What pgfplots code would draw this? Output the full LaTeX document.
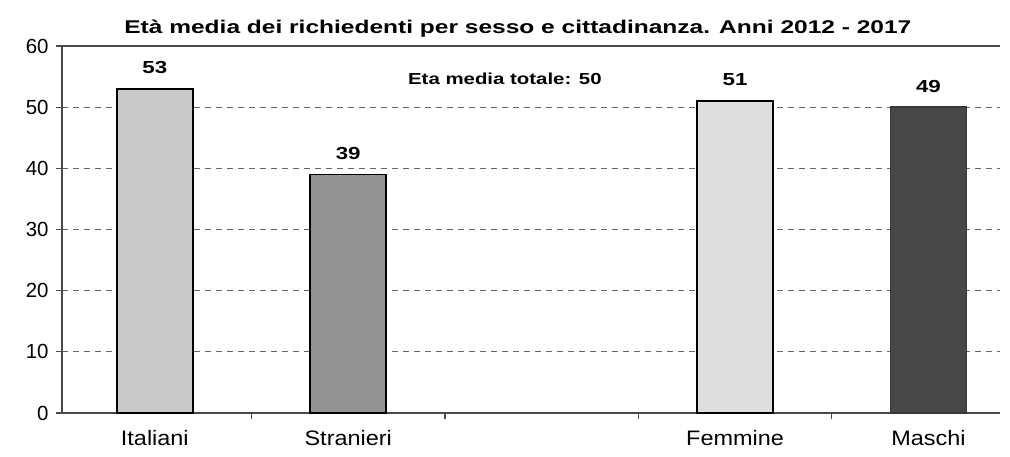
\documentclass[border=0pt]{standalone}
\usepackage{pgfplots}
\pgfplotsset{compat=1.18}
\usepackage{fontspec}
\setmainfont{Liberation Sans}
\newfontfamily\titlefont[FakeStretch=1.33]{Liberation Sans}
\newfontfamily\widefont[FakeStretch=1.28]{Liberation Sans}
\newfontfamily\midfont[FakeStretch=1.12]{Liberation Sans}
\definecolor{cIta}{HTML}{C9C9C9}
\definecolor{cStr}{HTML}{939393}
\definecolor{cFem}{HTML}{DEDEDE}
\definecolor{cMas}{HTML}{474747}
\definecolor{axgray}{HTML}{4A4A4A}
\begin{document}
\begin{tikzpicture}
\begin{axis}[
  scale only axis, width=938bp, height=367bp,
  xmin=-0.48, xmax=4.37, ymin=0, ymax=60,
  axis x line*=bottom, axis y line*=left,
  axis line style={axgray, line width=1.4bp, -},
  ytick={0,10,...,60},
  yticklabel style={font=\fontsize{20.5}{20.5}\selectfont, /pgf/number format/assume math mode=true, xshift=-4bp},
  ymajorgrids, grid style={gray!80!black, dashed, dash pattern=on 6bp off 5bp, line width=1.3bp},
  tick align=outside, major tick length=6bp,
  tick style={axgray, line width=1.2bp},
  xtick={0.5,1.5,2.5,3.5}, xticklabels={},
  extra x ticks={0,1,3,4},
  extra x tick labels={Italiani,Stranieri,Femmine,Maschi},
  extra x tick style={major tick length=0pt, grid=none,
     ticklabel style={font=\midfont\fontsize{21}{21}\selectfont, yshift=-14bp}},
  clip=false,
]
\addplot[ybar, bar shift=0pt, bar width=76bp, fill=cIta, draw=black, line width=1.8bp,
  nodes near coords, point meta=explicit symbolic,
  nodes near coords style={font=\widefont\bfseries\fontsize{17.5}{17.5}\selectfont, inner sep=0pt, yshift=14bp}]
  coordinates {(0,53) [53]};
\addplot[ybar, bar shift=0pt, bar width=76bp, fill=cStr, draw=black, line width=1.8bp,
  nodes near coords, point meta=explicit symbolic,
  nodes near coords style={font=\widefont\bfseries\fontsize{17.5}{17.5}\selectfont, inner sep=0pt, yshift=14bp}]
  coordinates {(1,39) [39]};
\addplot[ybar, bar shift=0pt, bar width=76bp, fill=cFem, draw=black, line width=1.8bp,
  nodes near coords, point meta=explicit symbolic,
  nodes near coords style={font=\widefont\bfseries\fontsize{17.5}{17.5}\selectfont, inner sep=0pt, yshift=14bp}]
  coordinates {(3,51) [51]};
\addplot[ybar, bar shift=0pt, bar width=76bp, fill=cMas, draw=cMas!80!black, line width=1.8bp,
  nodes near coords, point meta=explicit symbolic,
  nodes near coords style={font=\widefont\bfseries\fontsize{17.5}{17.5}\selectfont, inner sep=0pt, yshift=14bp}]
  coordinates {(4,50) [49]};
\draw[axgray, line width=1.4bp] (rel axis cs:0,1) -- (rel axis cs:1,1);
\node[font=\widefont\bfseries\fontsize{16}{16}\selectfont, inner sep=0pt] at (axis cs:1.81,54.6) {Eta media totale: 50};
\node[font=\titlefont\bfseries\fontsize{18.5}{18.5}\selectfont, inner sep=0pt] at (rel axis cs:0.486,1) [yshift=17bp] {Età media dei richiedenti per sesso e cittadinanza. Anni 2012 - 2017};
\end{axis}
\pgfresetboundingbox
\useasboundingbox (-62bp,-44bp) rectangle (948bp,413bp);
\end{tikzpicture}
\end{document}
